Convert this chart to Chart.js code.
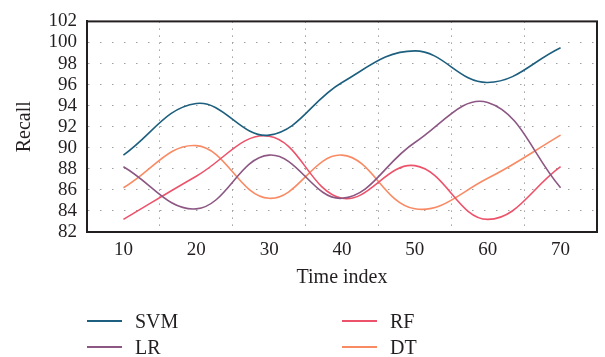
<!DOCTYPE html>
<html>
<head>
<meta charset="utf-8">
<script src="https://cdn.jsdelivr.net/npm/chart.js@4/dist/chart.umd.min.js"></script>
<style>
  html, body { margin: 0; padding: 0; background: #fff; }
  #wrap { position: relative; width: 605px; height: 357px; }
  #recallChart { position: absolute; left: 0; top: 0; }
  #legend {
    position: absolute; left: 87px; top: 308px;
    display: grid; grid-template-columns: 255px 255px;
    grid-auto-flow: column; grid-template-rows: 26px 26px;
    font-family: "Liberation Serif", serif; font-size: 20px; color: #231f20;
  }
  .item { display: flex; align-items: center; }
  .swatch { display: inline-block; width: 35px; height: 2px; margin-right: 13px; }
</style>
</head>
<body>
<div id="wrap">
  <canvas id="recallChart" width="605" height="357"></canvas>
  <div id="legend"></div>
</div>
<script>
const timeIndex = [10, 20, 30, 40, 50, 60, 70];
const svmRecall = [89.3, 94.2, 91.2, 96.2, 99.2, 96.2, 99.5];
const lrRecall  = [88.2, 84.2, 89.3, 85.2, 90.5, 94.3, 86.2];
const rfRecall  = [83.2, 87.3, 91.1, 85.2, 88.3, 83.2, 88.2];
const dtRecall  = [86.2, 90.2, 85.2, 89.3, 84.2, 87.1, 91.2];
const seriesNames = ['SVM', 'LR', 'RF', 'DT'];
const seriesColors = ['#1d5f7e', '#8c5783', '#ec536b', '#f98b64'];

const serif = '"Liberation Serif", serif';
const ink = '#231f20';

function toPoints(values) {
  return timeIndex.map((t, i) => ({ x: t, y: values[i] }));
}

const allSeries = [svmRecall, lrRecall, rfRecall, dtRecall];

// box around the plot area (top and right sides too)
const frame = {
  id: 'frame',
  afterDraw(chart) {
    const { ctx, chartArea: a } = chart;
    ctx.save();
    ctx.strokeStyle = ink;
    ctx.lineWidth = 2;
    ctx.setLineDash([]);
    ctx.strokeRect(a.left, a.top, a.right - a.left, a.bottom - a.top);
    ctx.restore();
  }
};

const ctx = document.getElementById('recallChart').getContext('2d');
const chart = new Chart(ctx, {
  type: 'line',
  data: {
    datasets: allSeries.map((vals, i) => ({
      label: seriesNames[i],
      data: toPoints(vals),
      borderColor: seriesColors[i],
      backgroundColor: seriesColors[i],
      borderWidth: 1.6,
      pointRadius: 0,
      tension: 0.4,
      fill: false
    }))
  },
  options: {
    responsive: false,
    animation: false,
    layout: { padding: { left: 0, right: 8, top: 19, bottom: 67 } },
    plugins: { legend: { display: false }, tooltip: { enabled: false } },
    scales: {
      x: {
        type: 'linear',
        min: 5,
        max: 75,
        afterBuildTicks: (scale) => { scale.ticks = timeIndex.map(v => ({ value: v })); },
        afterFit: (scale) => { scale.height = 58; },
        grid: {
          offset: true,
          color: '#a0a0a0',
          lineWidth: 1,
          drawTicks: false
        },
        border: { color: ink, width: 2, dash: [1.5, 5.5] },
        ticks: { color: ink, padding: 7, autoSkip: false, maxRotation: 0, font: { family: serif, size: 19 } },
        title: {
          display: true, text: 'Time index', color: ink,
          padding: { top: 1, bottom: 0 },
          font: { family: serif, size: 20 }
        }
      },
      y: {
        min: 82,
        max: 102,
        afterFit: (scale) => { scale.width = 87; },
        grid: {
          color: '#a0a0a0',
          lineWidth: 1,
          drawTicks: false
        },
        border: { color: ink, width: 2, dash: [1.5, 10.5] },
        ticks: { stepSize: 2, autoSkip: false, color: ink, padding: 10, font: { family: serif, size: 19 } },
        title: {
          display: true, text: 'Recall', color: ink,
          padding: { top: 13, bottom: 0 },
          font: { family: serif, size: 20 }
        }
      }
    }
  },
  plugins: [frame]
});

// legend: two columns, column-major order like the original
const legendBox = document.getElementById('legend');
chart.data.datasets.forEach(ds => {
  const item = document.createElement('div');
  item.className = 'item';
  item.innerHTML = `<span class="swatch" style="background:${ds.borderColor}"></span><span>${ds.label}</span>`;
  legendBox.appendChild(item);
});
</script>
</body>
</html>
